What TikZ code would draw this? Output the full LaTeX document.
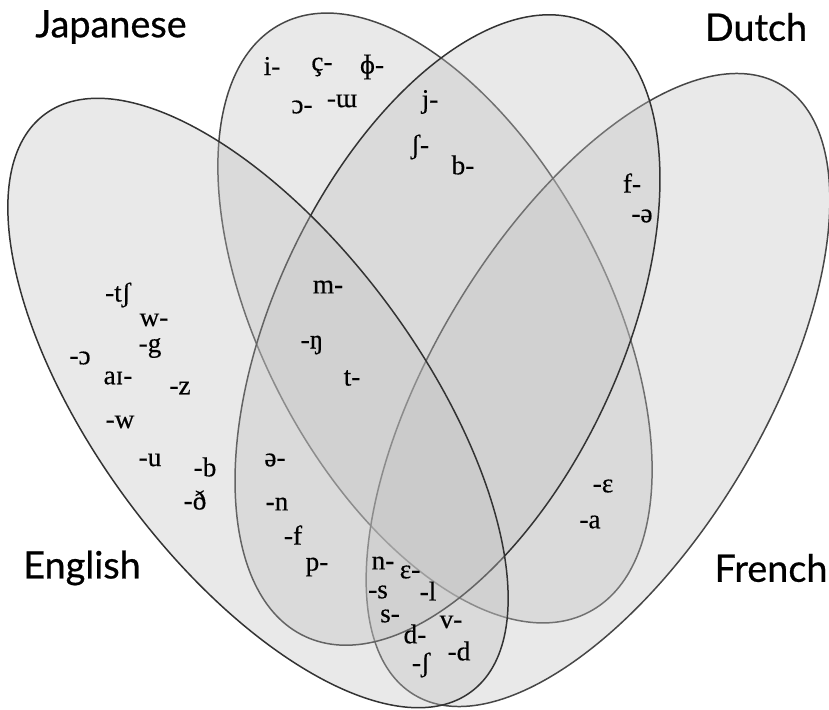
\documentclass[tikz,border=0pt]{standalone}
\usepackage{fontspec}
\newfontfamily\ipafont[FakeBold=0.4]{Liberation Serif}
\newfontfamily\langfont[FakeBold=0.6]{Lato}

\begin{document}
\begin{tikzpicture}[
    x=0.02cm, y=-0.02cm,
    every node/.style={
        inner sep=0pt,
        font=\ipafont\fontsize{15.5}{17}\selectfont
    },
    langlabel/.style={font=\langfont\fontsize{21.5}{24}\selectfont},
    setfill/.style={fill=black!25, fill opacity=0.35, line width=0.85pt},
    darkset/.style={setfill, draw=black!80},
    lightset/.style={setfill, draw=black!72}
]
\useasboundingbox (0,0) rectangle (829,710);

% === Sets (drawn back to front) ===
\draw[lightset, rotate around={-62.4:(435,318)}] (435,318) ellipse [x radius=6.64cm, y radius=3.46cm];
\draw[lightset, rotate around={58.9:(598,390)}] (598,390) ellipse [x radius=7.12cm, y radius=3.30cm];
\draw[darkset, rotate around={65.1:(447.5,330)}] (447.5,330) ellipse [x radius=6.76cm, y radius=3.48cm];
\draw[darkset, rotate around={-53.6:(258,403)}] (258,403) ellipse [x radius=7.18cm, y radius=3.26cm];

% === Language labels ===
\node[langlabel] (japanese) at (111,27) {Japanese};
\node[langlabel] (dutch) at (756,27) {Dutch};
\node[langlabel] (english) at (82,568) {English};
\node[langlabel] (french) at (771,568) {French};

% === Japanese only ===
\node (ja-i) at (272,66) {i-};
\node (ja-c) at (322,67) {ç-};
\node (ja-phi) at (372,67) {ɸ-};
\node (ja-o) at (302,107) {ɔ-};
\node (ja-u) at (342,101) {-ɯ};

% === Japanese & Dutch ===
\node (jd-j) at (430,102) {j-};
\node (jd-sh) at (420,147) {ʃ-};
\node (jd-b) at (463,165) {b-};

% === Dutch & French ===
\node (df-f) at (632,183) {f-};
\node (df-schwa) at (642,216) {-ə};

% === Japanese & French ===
\node (jf-eps) at (603,486) {-ɛ};
\node (jf-a) at (590,522) {-a};

% === English only ===
\node (en-tsh) at (118,295) {-tʃ};
\node (en-w) at (154,320) {w-};
\node (en-g) at (150,348) {-g};
\node (en-o) at (80,358) {-ɔ};
\node (en-ai) at (118,378) {aɪ-};
\node (en-z) at (180,388) {-z};
\node (en-ww) at (120,422) {-w};
\node (en-u) at (150,460) {-u};
\node (en-b) at (205,467) {-b};
\node (en-dh) at (195,500) {-ð};

% === Middle regions ===
\node (mid-m) at (328,287) {m-};
\node (mid-ng) at (312,345) {-ŋ};
\node (mid-t) at (352,378) {t-};
\node (mid-schwa) at (275,460) {ə-};
\node (mid-n) at (277,504) {-n};
\node (mid-f) at (293,535) {-f};
\node (mid-p) at (317,567) {p-};

% === Bottom cluster ===
\node (bot-n) at (383,563) {n-};
\node (bot-eps) at (410,572) {ɛ-};
\node (bot-s) at (378,592) {-s};
\node (bot-l) at (428,591) {-l};
\node (bot-ss) at (390,616) {s-};
\node (bot-d) at (415,634) {d-};
\node (bot-v) at (451,622) {v-};
\node (bot-sh) at (421,665) {-ʃ};
\node (bot-dd) at (459,651) {-d};

\end{tikzpicture}
\end{document}
